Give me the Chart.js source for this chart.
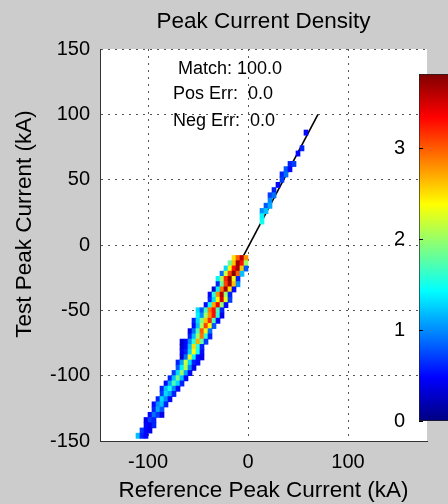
<!DOCTYPE html>
<html>
<head>
<meta charset="utf-8">
<script src="https://cdn.jsdelivr.net/npm/chart.js@4/dist/chart.umd.min.js"></script>
<style>
  html, body { margin: 0; padding: 0; background: #cccccc; }
  #wrap { position: relative; width: 448px; height: 504px; overflow: hidden; background: #cccccc; }
  #main { position: absolute; left: 0; top: 0; }
  #cbar { position: absolute; left: 389px; top: 56px; }
</style>
</head>
<body>
<div id="wrap">
  <canvas id="main" width="448" height="504"></canvas>
  <canvas id="cbar" width="100" height="383"></canvas>
</div>
<script>
// ---------------- data ----------------
const TITLE = 'Peak Current Density';
const X_LABEL = 'Reference Peak Current (kA)';
const Y_LABEL = 'Test Peak Current (kA)';
const X_TICKS = [-100, 0, 100];
const Y_TICKS = [-150, -100, -50, 0, 50, 100, 150];
const CB_TICKS = [0, 1, 2, 3];
const CB_MAX = 3.82;          // top of colour scale
const BIN = 4;                // histogram bin size (kA)

// density rows: centre y of the row, centre x of first cell, densities left->right
const rowY  = [86, 74, 70, 62, 58, 54, 50, 46, 42, 38, 34, 30, 26, 22, 18,
               -10, -14, -18, -22, -26, -30, -34, -38, -42, -46, -50, -54, -58, -62, -66, -70,
               -74, -78, -82, -86, -90, -94, -98, -102, -106, -110, -114, -118, -122, -126,
               -130, -134, -138, -142, -146];
const rowX0 = [58, 54, 50, 42, 38, 34, 34, 30, 26, 22, 22, 18, 14, 14, 14,
               -14, -18, -22, -26, -30, -30, -34, -38, -38, -42, -50, -50, -54, -54, -58, -58,
               -66, -66, -66, -66, -70, -70, -74, -78, -82, -86, -86, -90, -94, -94,
               -98, -102, -102, -106, -110];
const rowVals = [
  [0.5], [0.6], [0.5], [0.6, 0.7], [0.8, 0.5], [0.6, 0.9], [0.7], [0.5], [0.6],
  [0.7, 0.9], [1.0], [0.8, 1.1], [1.0, 1.2], [1.4], [1.5],
  [2.5, 3.0, 3.6, 2.8],
  [1.8, 2.6, 3.7, 3.3, 2.0],
  [1.3, 2.4, 3.3, 3.7, 2.6, 0.8],
  [0.9, 2.2, 3.1, 3.8, 3.0, 1.2],
  [1.4, 2.1, 3.2, 3.8, 2.4, 0.6],
  [0.6, 1.8, 3.1, 3.7, 2.6, 1.0],
  [0.3, 1.4, 2.9, 3.7, 2.5, 0.5],
  [0.5, 1.6, 2.8, 3.6, 2.0, 0.6],
  [0.6, 1.3, 2.4, 3.5, 2.3, 0.7],
  [0.5, 1.5, 2.7, 3.4, 2.0, 0.5],
  [1.3, 0.8, 1.7, 2.9, 3.3, 1.7, 0.6],
  [1.4, 1.0, 2.0, 2.8, 3.3, 1.6, 0.4],
  [0.6, 1.3, 1.9, 2.6, 3.2, 1.7, 0.5],
  [0.5, 1.2, 2.1, 3.1, 2.4, 0.8],
  [0.4, 0.9, 1.7, 3.0, 2.3, 0.9],
  [0.6, 1.2, 2.0, 2.9, 1.6, 0.6],
  [0.3, 0.5, 1.0, 1.6, 2.7, 1.8, 0.7],
  [0.3, 0.5, 1.2, 2.5, 1.6, 0.6],
  [0.4, 0.6, 1.3, 2.4, 1.5, 0.5],
  [0.3, 0.9, 2.3, 1.4, 0.5, 0.4],
  [0.6, 1.1, 2.2, 1.3, 0.6, 0.5],
  [0.8, 1.4, 2.1, 1.0, 0.4],
  [0.7, 1.3, 2.0, 1.1, 0.5],
  [0.6, 1.2, 1.9, 1.2, 0.5],
  [0.5, 1.1, 1.7, 1.3, 0.6],
  [0.6, 1.2, 1.5, 1.0, 0.5],
  [0.7, 1.3, 1.1, 0.6],
  [0.6, 1.3, 1.0, 0.5],
  [0.5, 1.0, 1.2, 0.6],
  [0.6, 1.1, 0.8],
  [0.5, 0.9, 0.7, 0.4],
  [0.4, 0.7, 0.6],
  [0.5, 0.4, 0.6],
  [0.7, 0.5, 0.4],
  [1.2, 0.6, 0.5]
];

// fitted line (reference vs test)
const fitX = [-6, 70];
const fitY = [-10.4, 100];

// statistics annotation
const statText = ['Match: 100.0', 'Pos Err:  0.0', 'Neg Err:  0.0'];
const statX = [-70, -75, -75];
const statY = [134.5, 115.5, 95];

// ---------------- helpers ----------------
function jet(t) {
  t = Math.max(0, Math.min(1, t));
  const f = v => Math.round(255 * Math.max(0, Math.min(1, v)));
  return 'rgb(' + f(1.5 - Math.abs(4 * t - 3)) + ',' + f(1.5 - Math.abs(4 * t - 2)) + ',' + f(1.5 - Math.abs(4 * t - 1)) + ')';
}

const cells = [];
rowY.forEach((y, r) => {
  rowVals[r].forEach((v, i) => {
    if (v > 0) cells.push({ x: rowX0[r] + i * BIN, y: y, v: v });
  });
});

const FONT = 'Liberation Sans, Arial, Helvetica, sans-serif';

const bgPlugin = {
  id: 'bg',
  beforeDraw(chart) {
    const { ctx, chartArea: a } = chart;
    ctx.save();
    ctx.fillStyle = '#ffffff';
    ctx.fillRect(a.left, a.top, a.right - a.left, a.bottom - a.top);
    ctx.restore();
  }
};

const textPlugin = {
  id: 'texts',
  afterDraw(chart) {
    const { ctx, chartArea: a, scales } = chart;
    ctx.save();
    ctx.fillStyle = '#000';
    ctx.font = '18px ' + FONT;
    ctx.textAlign = 'left';
    ctx.textBaseline = 'middle';
    statText.forEach((t, i) => {
      ctx.fillText(t, scales.x.getPixelForValue(statX[i]), scales.y.getPixelForValue(statY[i]));
    });
    // y axis title
    ctx.font = '22.5px ' + FONT;
    ctx.textAlign = 'center';
    ctx.translate(25, (a.top + a.bottom) / 2 - 21);
    ctx.rotate(-Math.PI / 2);
    ctx.fillText(Y_LABEL, 0, 0);
    ctx.restore();
  }
};

// ---------------- main chart ----------------
new Chart(document.getElementById('main'), {
  type: 'bar',
  data: {
    datasets: [
      {
        type: 'bar',
        data: cells.map(c => ({ x: c.x, y: [c.y - BIN / 2, c.y + BIN / 2] })),
        backgroundColor: cells.map(c => jet(c.v / CB_MAX)),
        borderWidth: 0,
        barPercentage: 1,
        categoryPercentage: 1,
        grouped: false,
        order: 1
      },
      {
        type: 'line',
        data: fitX.map((x, i) => ({ x: x, y: fitY[i] })),
        borderColor: '#000',
        borderWidth: 1.6,
        pointRadius: 0,
        fill: false,
        order: 2
      }
    ]
  },
  options: {
    responsive: false,
    animation: false,
    events: [],
    layout: { padding: { left: 0, right: 21, top: 0, bottom: 0 } },
    plugins: {
      legend: { display: false },
      tooltip: { enabled: false },
      title: {
        display: true,
        text: TITLE,
        fullSize: false,
        color: '#000',
        font: { family: FONT, size: 22.5, weight: 'normal' },
        padding: { top: 8, bottom: 14 }
      }
    },
    scales: {
      x: {
        type: 'linear',
        min: -148, max: 179,
        offset: false,
        afterFit(s) { s.height = 63; },
        afterBuildTicks(s) { s.ticks = X_TICKS.map(v => ({ value: v })); },
        ticks: { color: '#000', font: { family: FONT, size: 20 }, padding: 9 },
        grid: { color: '#555', lineWidth: 1, drawTicks: false, offset: false },
        border: { display: true, color: '#333', width: 1, dash: [2, 5] },
        title: { display: true, text: X_LABEL, color: '#000', font: { family: FONT, size: 22.5 }, padding: { top: 0, bottom: 0 } }
      },
      y: {
        type: 'linear',
        min: -150, max: 150,
        afterFit(s) { s.width = 100; },
        afterBuildTicks(s) { s.ticks = Y_TICKS.map(v => ({ value: v })); },
        ticks: { color: '#000', font: { family: FONT, size: 20 }, padding: 10 },
        grid: { color: '#555', lineWidth: 1, drawTicks: false },
        border: { display: true, color: '#333', width: 1, dash: [2, 5] }
      }
    }
  },
  plugins: [bgPlugin, textPlugin]
});

// ---------------- colour bar ----------------
const cbTickPlugin = {
  id: 'cbticks',
  afterDatasetsDraw(chart) {
    const { ctx, chartArea: a, scales } = chart;
    ctx.save();
    ctx.strokeStyle = '#000';
    ctx.lineWidth = 1;
    CB_TICKS.forEach(v => {
      const y = Math.round(scales.y.getPixelForValue(v)) + 0.5;
      ctx.beginPath();
      ctx.moveTo(a.left, y); ctx.lineTo(a.left + 4, y);
      ctx.stroke();
    });
    ctx.restore();
  }
};

new Chart(document.getElementById('cbar'), {
  type: 'bar',
  data: {
    labels: [''],
    datasets: [{
      data: [[0, CB_MAX]],
      backgroundColor(ctx) {
        const chart = ctx.chart;
        if (!chart.chartArea) return '#888';
        const ys = chart.scales.y;
        const g = chart.ctx.createLinearGradient(0, ys.getPixelForValue(0), 0, ys.getPixelForValue(CB_MAX));
        for (let i = 0; i <= 32; i++) g.addColorStop(i / 32, jet(i / 32));
        return g;
      },
      borderColor: '#222',
      borderWidth: 1,
      borderSkipped: false,
      barPercentage: 1,
      categoryPercentage: 1
    }]
  },
  options: {
    responsive: false,
    animation: false,
    events: [],
    layout: { padding: 0 },
    plugins: { legend: { display: false }, tooltip: { enabled: false } },
    scales: {
      x: { display: false },
      y: {
        min: 0, max: CB_MAX,
        afterFit(s) { s.width = 30; },
        afterBuildTicks(s) { s.ticks = CB_TICKS.map(v => ({ value: v })); },
        ticks: { color: '#000', font: { family: FONT, size: 20 }, padding: 6 },
        grid: { display: false },
        border: { display: false }
      }
    }
  },
  plugins: [cbTickPlugin]
});
</script>
</body>
</html>
